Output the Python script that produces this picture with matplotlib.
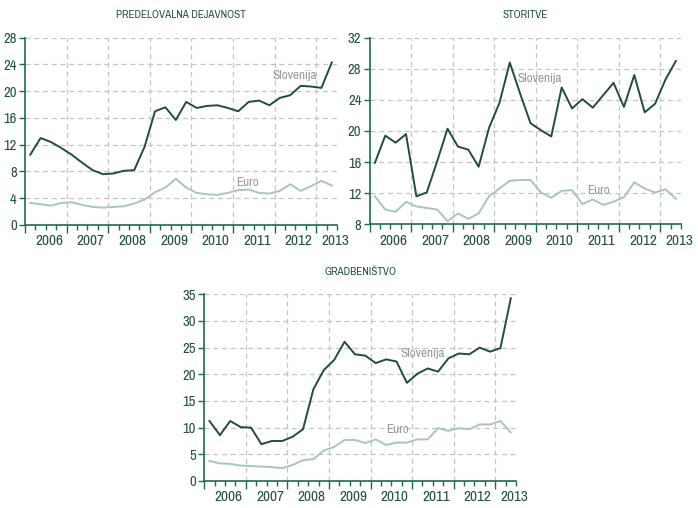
import matplotlib
matplotlib.use("Agg")
import matplotlib.pyplot as plt
from matplotlib.ticker import FixedLocator, NullFormatter
import matplotlib.transforms as mtransforms
from matplotlib import font_manager as fm

_avail = {f.name for f in fm.fontManager.ttflist}
_fam = [f for f in ['Archivo Narrow', 'Liberation Sans Narrow', 'DejaVu Sans'] if f in _avail]
plt.rcParams['font.family'] = _fam or ['DejaVu Sans']

# quarters 2006Q1 .. 2013Q2
years = [2006, 2007, 2008, 2009, 2010, 2011, 2012, 2013]
n_q = 30

titles = ["PREDELOVALNA DEJAVNOST", "STORITVE", "GRADBENIŠTVO"]

pred_slo = [10.5, 13.0, 12.4, 11.5, 10.5, 9.3, 8.2, 7.6, 7.7, 8.1, 8.2, 11.7,
            17.0, 17.6, 15.7, 18.4, 17.5, 17.8, 17.9, 17.5, 17.0, 18.4, 18.6, 17.9,
            19.0, 19.4, 20.8, 20.7, 20.5, 24.3]
pred_euro = [3.3, 3.1, 2.9, 3.3, 3.4, 3.0, 2.7, 2.6, 2.7, 2.8, 3.2, 3.8,
             4.9, 5.6, 6.9, 5.6, 4.8, 4.6, 4.5, 4.8, 5.2, 5.3, 4.8, 4.7,
             5.1, 6.1, 5.1, 5.8, 6.6, 5.9]

stor_slo = [15.9, 19.4, 18.5, 19.6, 11.6, 12.1, 16.1, 20.3, 18.0, 17.6, 15.4, 20.4,
            23.6, 28.8, 24.8, 21.0, 20.1, 19.3, 25.6, 22.9, 24.1, 23.0, 24.6, 26.2,
            23.1, 27.2, 22.4, 23.5, 26.6, 29.0]
stor_euro = [11.6, 9.9, 9.6, 10.9, 10.3, 10.1, 9.9, 8.4, 9.4, 8.7, 9.4, 11.6,
             12.6, 13.6, 13.7, 13.7, 12.1, 11.4, 12.3, 12.4, 10.6, 11.2, 10.5, 10.9,
             11.5, 13.4, 12.6, 12.1, 12.5, 11.3]

grad_slo = [11.25, 8.6, 11.25, 10.1, 10.0, 6.9, 7.5, 7.5, 8.3, 9.7, 17.2, 20.8,
            22.7, 26.1, 23.75, 23.5, 22.1, 22.8, 22.4, 18.4, 20.1, 21.1, 20.5, 23.0,
            23.9, 23.75, 25.0, 24.25, 24.9, 34.25]
grad_euro = [3.75, 3.3, 3.2, 2.9, 2.8, 2.7, 2.6, 2.4, 3.0, 3.9, 4.1, 5.7,
             6.4, 7.7, 7.7, 7.1, 7.8, 6.75, 7.2, 7.2, 7.8, 7.8, 9.9, 9.4,
             9.9, 9.7, 10.6, 10.6, 11.25, 9.1]

pred_yticks = [0, 4, 8, 12, 16, 20, 24, 28]
stor_yticks = [8, 12, 16, 20, 24, 28, 32]
grad_yticks = [0, 5, 10, 15, 20, 25, 30, 35]

series_labels = ["Slovenija", "Euro"]

x = [2006 + (i + 0.5) / 4 for i in range(n_q)]

C_SLO = "#1f4f3c"
C_EURO = "#a9c6b9"
C_AX = "#1f6a52"
C_TXT = "#245244"
C_LAB = "#9a9a9a"
C_GRID = "#c4c4c4"

W, H = 698, 508
fig = plt.figure(figsize=(W / 100, H / 100), dpi=100)


def rect(l, t, r, b):
    return [l / W, (H - b) / H, (r - l) / W, (b - t) / H]


panels = [
    (rect(25, 37.7, 337, 225), titles[0], pred_slo, pred_euro, pred_yticks,
     (2012.48, 22.3), (2011.36, 6.3)),
    (rect(369.7, 37.7, 681, 224.3), titles[1], stor_slo, stor_euro, stor_yticks,
     (2010.1, 26.7), (2011.52, 12.4)),
    (rect(204.3, 294.3, 516, 481), titles[2], grad_slo, grad_euro, grad_yticks,
     (2011.26, 23.9), (2010.66, 9.6)),
]

for r, title, slo, euro, yt, slo_pos, euro_pos in panels:
    ax = fig.add_axes(r)
    ax.set_xlim(2006, 2013.5)
    ax.set_ylim(yt[0], yt[-1])
    for s in ["top", "right"]:
        ax.spines[s].set_visible(False)
    for s in ["left", "bottom"]:
        ax.spines[s].set_color(C_AX)
        ax.spines[s].set_linewidth(1.2)
    ax.set_yticks(yt)
    ax.set_yticklabels([str(v) for v in yt])
    ax.tick_params(axis='y', colors=C_AX, labelcolor=C_TXT, labelsize=10.5,
                   length=4, width=1, pad=2)
    ax.xaxis.set_major_locator(FixedLocator(years))
    ax.xaxis.set_minor_locator(FixedLocator([2006 + q / 4 for q in range(31)]))
    ax.xaxis.set_major_formatter(NullFormatter())
    ax.tick_params(axis='x', which='major', colors=C_AX, length=6, width=1)
    ax.tick_params(axis='x', which='minor', colors=C_AX, length=3.5, width=1)
    # grid
    for v in yt[1:]:
        ax.axhline(v, color=C_GRID, lw=0.9, ls=(0, (4, 3)), zorder=0)
    for yv in years[1:]:
        ax.axvline(yv, color=C_GRID, lw=0.9, ls=(0, (4, 3)), zorder=0)
    trans = mtransforms.blended_transform_factory(ax.transData, ax.transAxes)
    for yv in years:
        xp = yv + 0.58 if yv < 2013 else 2013.45
        ax.text(xp, -0.05, str(yv), transform=trans, ha='center', va='top',
                fontsize=11, color=C_TXT)
    ax.plot(x, euro, color=C_EURO, lw=1.4, zorder=3)
    ax.plot(x, slo, color=C_SLO, lw=1.4, zorder=4)
    ax.text(slo_pos[0], slo_pos[1], series_labels[0], ha='center', va='center',
            fontsize=9.5, color=C_LAB)
    ax.text(euro_pos[0], euro_pos[1], series_labels[1], ha='center', va='center',
            fontsize=9.5, color=C_LAB)
    ax.set_title(title, fontsize=8, color=C_TXT, pad=14)

fig.savefig("out.png", dpi=100)
